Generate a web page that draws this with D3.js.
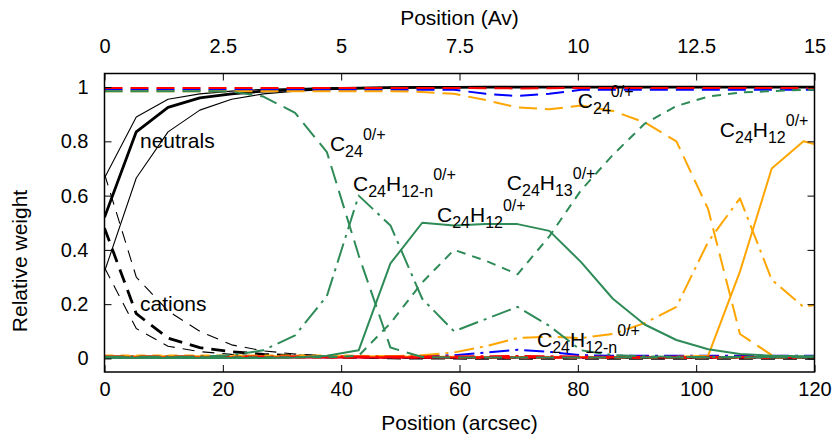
<!DOCTYPE html>
<html>
<head>
<meta charset="UTF-8">
<title>Relative weight</title>
<script src="https://cdn.jsdelivr.net/npm/d3@7"></script>
<style>
  * { margin: 0; padding: 0; }
  body { background: #fff; }
  svg text { font-family: "Liberation Sans", Arial, Helvetica, sans-serif; fill: #000; }
</style>
</head>
<body>
<div id="grafico"></div>
<script>
// positions along the cut (arcsec)
var pos = [0, 5.37, 10.74, 16.11, 21.48, 26.85, 32.22, 37.59, 42.96, 48.33, 53.70, 59.07,
           64.44, 69.81, 75.18, 80.55, 85.92, 91.29, 96.66, 102.03, 107.40, 112.77, 118.14, 123.51];

// charge state (black)
var neutMid = [0.52, 0.835, 0.925, 0.96, 0.975, 0.985, 0.99, 0.994, 0.996, 0.998, 0.999, 0.999, 1, 1, 1, 1, 1, 1, 1, 1, 1, 1, 1, 1];
var neutHi  = [0.665, 0.89, 0.955, 0.975, 0.985, 0.992, 0.995, 0.997, 0.998, 0.999, 1, 1, 1, 1, 1, 1, 1, 1, 1, 1, 1, 1, 1, 1];
var neutLo  = [0.32, 0.665, 0.835, 0.915, 0.955, 0.975, 0.985, 0.99, 0.994, 0.996, 0.998, 0.999, 1, 1, 1, 1, 1, 1, 1, 1, 1, 1, 1, 1];
var catMid  = [0.48, 0.165, 0.075, 0.04, 0.025, 0.015, 0.01, 0.006, 0.004, 0.002, 0.001, 0.001, 0, 0, 0, 0, 0, 0, 0, 0, 0, 0, 0, 0];
var catHi   = [0.68, 0.30, 0.175, 0.10, 0.05, 0.028, 0.016, 0.01, 0.006, 0.004, 0.002, 0.001, 0, 0, 0, 0, 0, 0, 0, 0, 0, 0, 0, 0];
var catLo   = [0.335, 0.11, 0.045, 0.025, 0.015, 0.008, 0.005, 0.003, 0.002, 0.001, 0, 0, 0, 0, 0, 0, 0, 0, 0, 0, 0, 0, 0, 0];

// green model
var gC24     = [0.985, 0.985, 0.985, 0.985, 0.983, 0.965, 0.905, 0.76, 0.38, 0.04, 0.005, 0.003, 0.003, 0.003, 0.003, 0.003, 0.003, 0.003, 0.003, 0.003, 0.003, 0.003, 0.003, 0.003];
var gC24H12n = [0.006, 0.006, 0.006, 0.006, 0.012, 0.03, 0.085, 0.23, 0.60, 0.49, 0.22, 0.10, 0.145, 0.19, 0.12, 0.03, 0.012, 0.008, 0.006, 0.005, 0.005, 0.005, 0.005, 0.005];
var gC24H12  = [0.002, 0.002, 0.002, 0.002, 0.002, 0.002, 0.003, 0.01, 0.03, 0.35, 0.50, 0.49, 0.495, 0.495, 0.47, 0.355, 0.22, 0.125, 0.068, 0.034, 0.016, 0.01, 0.008, 0.008];
var gC24H13  = [0.004, 0.004, 0.004, 0.004, 0.004, 0.004, 0.004, 0.004, 0.01, 0.13, 0.28, 0.40, 0.36, 0.31, 0.45, 0.62, 0.75, 0.865, 0.93, 0.965, 0.98, 0.985, 0.99, 0.99];

// orange model
var oC24     = [0.985, 0.985, 0.985, 0.985, 0.985, 0.985, 0.985, 0.985, 0.985, 0.985, 0.982, 0.975, 0.952, 0.925, 0.918, 0.932, 0.912, 0.87, 0.80, 0.55, 0.09, 0.012, 0.005, 0.005];
var oC24H12n = [0.006, 0.006, 0.006, 0.006, 0.006, 0.006, 0.006, 0.006, 0.006, 0.008, 0.012, 0.022, 0.045, 0.075, 0.08, 0.075, 0.09, 0.13, 0.19, 0.43, 0.59, 0.29, 0.19, 0.21];
var oC24H12  = [0.008, 0.008, 0.008, 0.008, 0.008, 0.008, 0.008, 0.008, 0.008, 0.007, 0.006, 0.006, 0.005, 0.005, 0.005, 0.005, 0.005, 0.005, 0.006, 0.01, 0.32, 0.70, 0.80, 0.77];
var oC24H13  = [0.011, 0.011, 0.011, 0.011, 0.011, 0.011, 0.011, 0.011, 0.01, 0.008, 0.006, 0.004, 0.003, 0.003, 0.003, 0.003, 0.003, 0.003, 0.003, 0.003, 0.003, 0.003, 0.003, 0.003];

// blue model
var bC24     = [0.99, 0.99, 0.99, 0.99, 0.99, 0.99, 0.99, 0.99, 0.99, 0.99, 0.99, 0.99, 0.975, 0.967, 0.975, 0.99, 0.99, 0.99, 0.99, 0.99, 0.99, 0.99, 0.99, 0.99];
var bC24H12n = [0.006, 0.006, 0.006, 0.006, 0.006, 0.006, 0.006, 0.006, 0.006, 0.006, 0.008, 0.012, 0.022, 0.032, 0.024, 0.012, 0.01, 0.01, 0.01, 0.01, 0.01, 0.01, 0.01, 0.01];
var bC24H12  = [0.004, 0.004, 0.004, 0.004, 0.004, 0.004, 0.004, 0.004, 0.004, 0.004, 0.004, 0.004, 0.004, 0.004, 0.004, 0.004, 0.004, 0.004, 0.004, 0.004, 0.004, 0.004, 0.004, 0.004];
var bC24H13  = [0.005, 0.005, 0.005, 0.005, 0.005, 0.005, 0.005, 0.005, 0.005, 0.005, 0.005, 0.005, 0.005, 0.005, 0.005, 0.005, 0.005, 0.005, 0.005, 0.005, 0.005, 0.005, 0.005, 0.005];

// red model
var rC24     = [0.997, 0.997, 0.997, 0.997, 0.997, 0.997, 0.997, 0.997, 0.997, 0.997, 0.997, 0.997, 0.996, 0.995, 0.996, 0.997, 0.997, 0.997, 0.997, 0.997, 0.997, 0.997, 0.997, 0.997];
var rC24H12n = [0.007, 0.007, 0.007, 0.007, 0.007, 0.007, 0.007, 0.007, 0.007, 0.007, 0.007, 0.007, 0.008, 0.009, 0.008, 0.007, 0.006, 0.006, 0.006, 0.006, 0.006, 0.006, 0.006, 0.006];
var rC24H12  = [0.003, 0.003, 0.003, 0.003, 0.003, 0.003, 0.003, 0.003, 0.003, 0.003, 0.003, 0.003, 0.003, 0.003, 0.003, 0.003, 0.003, 0.003, 0.003, 0.003, 0.003, 0.003, 0.003, 0.003];
var rC24H13  = [0.003, 0.003, 0.003, 0.003, 0.003, 0.003, 0.003, 0.003, 0.003, 0.003, 0.003, 0.003, 0.003, 0.003, 0.003, 0.003, 0.003, 0.003, 0.003, 0.003, 0.003, 0.003, 0.003, 0.003];

// ticks
var xTicks = [0, 20, 40, 60, 80, 100, 120];
var avTicks = [0, 2.5, 5, 7.5, 10, 12.5, 15];
var yTicks = [0, 0.2, 0.4, 0.6, 0.8, 1];

var w = 836, h = 437;
var xIzq = 104.5, xDer = 814.5, yArr = 73.5, yAba = 372;

var verde = "#2e8b57", naranja = "#ffa500", azul = "#0000ff", rojo = "#ff0000";
var largo = "18,8", corto = "9,7", punto = "20,6,3,6";

var x = d3.scaleLinear().domain([0, 120]).range([xIzq, xDer]);
var xAv = d3.scaleLinear().domain([0, 15]).range([xIzq, xDer]);
var y = d3.scaleLinear().domain([-0.05, 1.05]).range([yAba, yArr]);

var svg = d3.select("#grafico").append("svg")
    .attr("width", w).attr("height", h);

svg.append("clipPath").attr("id", "marco")
  .append("rect")
    .attr("x", xIzq).attr("y", yArr)
    .attr("width", xDer - xIzq).attr("height", yAba - yArr);

// the series, black first, colours on top
var series = [
  {d: neutHi,  c: "#000", dash: null, sw: 1.1},
  {d: neutLo,  c: "#000", dash: null, sw: 1.1},
  {d: catHi,   c: "#000", dash: "12,8", sw: 1.1},
  {d: catLo,   c: "#000", dash: "12,8", sw: 1.1},
  {d: neutMid, c: "#000", dash: null, sw: 2.8},
  {d: catMid,  c: "#000", dash: "14,8", sw: 2.8},

  {d: bC24H13,  c: azul, dash: corto, sw: 2},
  {d: bC24H12,  c: azul, dash: null, sw: 2},
  {d: bC24H12n, c: azul, dash: punto, sw: 2},
  {d: bC24,     c: azul, dash: largo, sw: 2},

  {d: oC24H13,  c: naranja, dash: corto, sw: 2},
  {d: oC24H12,  c: naranja, dash: null, sw: 2},
  {d: oC24H12n, c: naranja, dash: punto, sw: 2},
  {d: oC24,     c: naranja, dash: largo, sw: 2},

  {d: rC24H13,  c: rojo, dash: corto, sw: 2},
  {d: rC24H12,  c: rojo, dash: null, sw: 2},
  {d: rC24H12n, c: rojo, dash: punto, sw: 2},
  {d: rC24,     c: rojo, dash: largo, sw: 2},

  {d: gC24H13,  c: verde, dash: corto, sw: 2},
  {d: gC24H12,  c: verde, dash: null, sw: 2},
  {d: gC24H12n, c: verde, dash: punto, sw: 2},
  {d: gC24,     c: verde, dash: largo, sw: 2}
];

var linea = d3.line()
    .x(function(d, i) { return x(pos[i]); })
    .y(function(d) { return y(d); });

svg.append("g").attr("clip-path", "url(#marco)")
  .selectAll("path")
  .data(series)
  .enter()
  .append("path")
    .attr("d", function(s) { return linea(s.d); })
    .attr("fill", "none")
    .attr("stroke", function(s) { return s.c; })
    .attr("stroke-width", function(s) { return s.sw; })
    .attr("stroke-dasharray", function(s) { return s.dash; })
    .attr("stroke-linejoin", "round");

// axes, ticks pointing inwards like gnuplot
var fmt = d3.format("~g");

function estilo(g) {
  g.attr("font-size", 20).attr("font-family", null);
  g.select(".domain").remove();
  g.selectAll(".tick line").attr("stroke", "#000").attr("stroke-width", 1);
}

svg.append("g").attr("transform", "translate(0," + yAba + ")")
  .call(d3.axisBottom(x).tickValues(xTicks).tickFormat(fmt).tickSize(-7).tickPadding(10))
  .call(estilo);

svg.append("g").attr("transform", "translate(0," + yArr + ")")
  .call(d3.axisTop(xAv).tickValues(avTicks).tickFormat(fmt).tickSize(-7).tickPadding(21))
  .call(estilo);

svg.append("g").attr("transform", "translate(" + xIzq + ",0)")
  .call(d3.axisLeft(y).tickValues(yTicks).tickFormat(fmt).tickSize(-7).tickPadding(16))
  .call(estilo);

svg.append("g").attr("transform", "translate(" + xDer + ",0)")
  .call(d3.axisRight(y).tickValues(yTicks).tickFormat("").tickSize(-7))
  .call(estilo);

svg.append("rect")
    .attr("x", xIzq).attr("y", yArr)
    .attr("width", xDer - xIzq).attr("height", yAba - yArr)
    .attr("fill", "none").attr("stroke", "#000").attr("stroke-width", 1.5);

// axis titles
svg.append("text").attr("x", (xIzq + xDer) / 2).attr("y", 430)
    .attr("text-anchor", "middle").attr("font-size", 21).text("Position (arcsec)");
svg.append("text").attr("x", (xIzq + xDer) / 2).attr("y", 25)
    .attr("text-anchor", "middle").attr("font-size", 21).text("Position (Av)");
svg.append("text").attr("transform", "translate(27," + 261 + ") rotate(-90)")
    .attr("text-anchor", "middle").attr("font-size", 21).text("Relative weight");

// labels inside the plot (position in data units)
var etiquetas = [
  {px: 6.0,  v: 0.776, t: [["neutrals", ""]]},
  {px: 6.0,  v: 0.175, t: [["cations", ""]]},
  {px: 38.1, v: 0.765, t: [["C", ""], ["24", "sub"], ["0/+", "sup"]]},
  {px: 42.0, v: 0.617, t: [["C", ""], ["24", "sub"], ["H", ""], ["12-n", "sub"], ["0/+", "sup"]]},
  {px: 56.2, v: 0.503, t: [["C", ""], ["24", "sub"], ["H", ""], ["12", "sub"], ["0/+", "sup"]]},
  {px: 68.0, v: 0.621, t: [["C", ""], ["24", "sub"], ["H", ""], ["13", "sub"], ["0/+", "sup"]]},
  {px: 80.0, v: 0.924, t: [["C", ""], ["24", "sub"], ["0/+", "sup"]]},
  {px: 104.0, v: 0.817, t: [["C", ""], ["24", "sub"], ["H", ""], ["12", "sub"], ["0/+", "sup"]]},
  {px: 73.1, v: 0.042, t: [["C", ""], ["24", "sub"], ["H", ""], ["12-n", "sub"], ["0/+", "sup"]]}
];

var desp = {"": 0, "sub": 6, "sup": -11};

etiquetas.forEach(function(e) {
  var txt = svg.append("text")
      .attr("x", x(e.px)).attr("y", y(e.v))
      .attr("font-size", 21);
  var actual = 0;
  e.t.forEach(function(p) {
    var nuevo = desp[p[1]];
    txt.append("tspan")
        .attr("dy", nuevo - actual)
        .attr("font-size", p[1] === "" ? 21 : 16)
        .text(p[0]);
    actual = nuevo;
  });
});
</script>
</body>
</html>
